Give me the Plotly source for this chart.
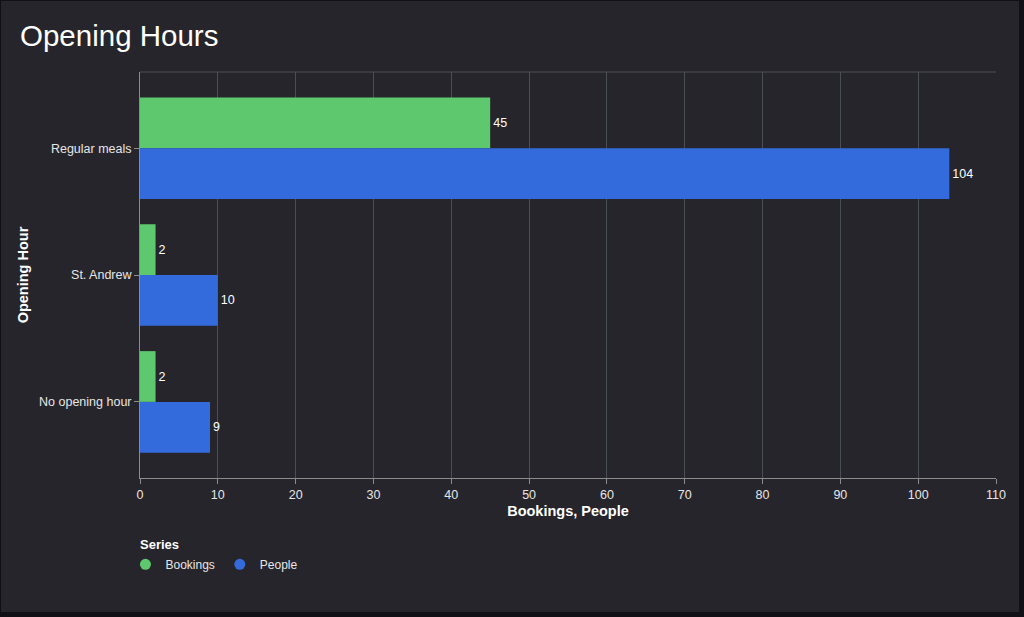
import plotly.graph_objects as go

# data
categories = ["Regular meals", "St. Andrew", "No opening hour"]
bookings = [45, 2, 2]
people = [104, 10, 9]

green = "#5ec86e"
blue = "#346bdc"
bg = "#26252c"
font_family = "Liberation Sans, Arial, sans-serif"

fig = go.Figure()

# with the reversed category range the first trace sits on top of each group
fig.add_trace(go.Bar(
    y=categories, x=bookings, orientation="h", name="Bookings",
    marker=dict(color=green, line=dict(width=0)),
    text=bookings, textposition="outside", cliponaxis=False,
    textfont=dict(color="#ffffff", size=12.5),
    showlegend=False, hoverinfo="x+y",
))
fig.add_trace(go.Bar(
    y=categories, x=people, orientation="h", name="People",
    marker=dict(color=blue, line=dict(width=0)),
    text=people, textposition="outside", cliponaxis=False,
    textfont=dict(color="#ffffff", size=12.5),
    showlegend=False, hoverinfo="x+y",
))

# round legend markers
for name, col in [("Bookings", green), ("People", blue)]:
    fig.add_trace(go.Scatter(
        x=[None], y=[None], mode="markers", name=name,
        marker=dict(symbol="circle", size=11, color=col),
    ))

fig.update_layout(
    width=1024, height=617,
    paper_bgcolor="#111016",
    plot_bgcolor=bg,
    font=dict(family=font_family, color="#e6e6e6", size=12),
    margin=dict(l=140, r=28, t=72, b=139),
    barmode="group",
    bargap=0.2,
    bargroupgap=0,
    title=dict(
        text="Opening Hours",
        x=20 / 1024, xref="container", xanchor="left",
        y=1 - 36 / 617, yref="container", yanchor="middle",
        font=dict(size=29.5, color="#ffffff", family=font_family),
    ),
    legend=dict(
        orientation="h",
        x=-0.017, xanchor="left",
        y=-0.177, yanchor="top",
        font=dict(size=12, color="#e6e6e6"),
        itemwidth=30,
        bgcolor="rgba(0,0,0,0)",
    ),
    annotations=[dict(
        text="<b>Series</b>", xref="paper", yref="paper",
        x=-0.002, xanchor="left", y=-0.163, yanchor="middle",
        showarrow=False, font=dict(size=13, color="#ffffff"),
    )],
    # dark card behind the chart, slightly inset from the page edge
    shapes=[dict(
        type="rect", xref="paper", yref="paper", layer="below",
        x0=-0.1624, x1=1.0269, y0=-0.330, y1=1.1749,
        fillcolor=bg, line=dict(width=0),
    )],
)

fig.update_xaxes(
    range=[0, 110], dtick=10,
    showgrid=True, gridcolor="#4a4e57", gridwidth=1,
    showline=True, linecolor="#8c8c8c", linewidth=1,
    ticks="outside", ticklen=5, tickcolor="#8c8c8c",
    zeroline=False,
    tickfont=dict(size=12.5, color="#e6e6e6"),
    title=dict(text="<b>Bookings, People</b>", standoff=4,
               font=dict(size=14.5, color="#ffffff")),
)
fig.update_yaxes(
    type="category",
    categoryorder="array", categoryarray=categories,
    range=[2.6, -0.6],
    showgrid=False,
    showline=True, linecolor="#8c8c8c", linewidth=1,
    ticks="outside", ticklen=5, tickcolor="#8c8c8c",
    tickfont=dict(size=12.5, color="#e6e6e6"),
    title=dict(text="<b>Opening Hour</b>", standoff=6,
               font=dict(size=14.5, color="#ffffff")),
)

# top border line of the plot area, as in the reference
fig.add_shape(type="line", xref="paper", yref="paper",
              x0=0, x1=1, y0=1, y1=1,
              line=dict(color="#4a4e57", width=1))

# drop the browser's default body margin so the figure fills the window
fig.write_html(
    "out.html",
    config={"displayModeBar": False},
    post_script="document.body.style.margin='0';"
                "document.body.style.background='#111016';",
)
